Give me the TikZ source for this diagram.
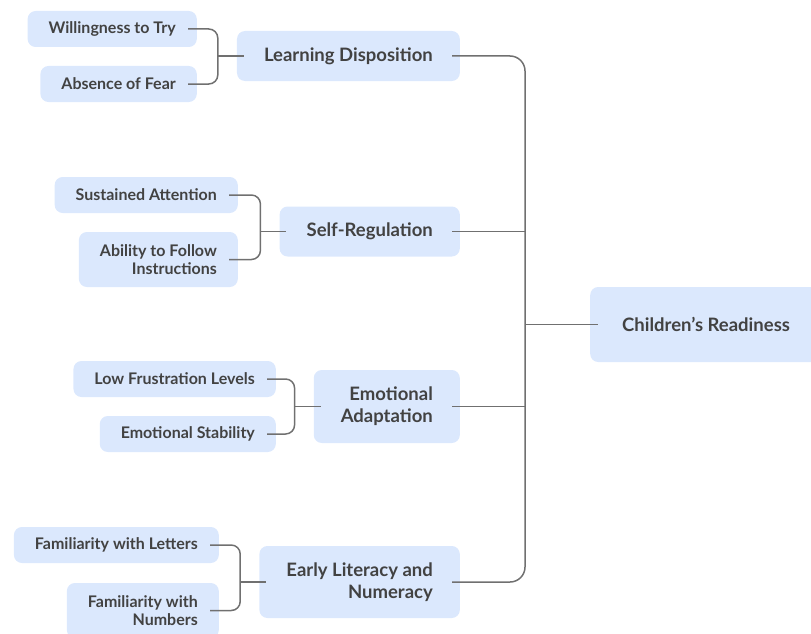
\documentclass[tikz,border=0pt]{standalone}
\usepackage{fontspec}
\setmainfont{Lato}
\usetikzlibrary{positioning}
\definecolor{boxblue}{RGB}{219,232,253}
\definecolor{ink}{RGB}{66,66,66}
\definecolor{linegray}{RGB}{112,112,112}

\begin{document}
\begin{tikzpicture}[x=1pt, y=-1pt,
    box/.style = {fill=boxblue, rounded corners=8pt, text=ink, align=right},
    topic/.style = {box, font=\fontsize{18.5}{22}\selectfont\bfseries,
        inner xsep=27pt, minimum height=50pt, anchor=east},
    leaf/.style = {box, font=\fontsize{16}{18}\selectfont\bfseries,
        inner xsep=21pt, minimum height=36pt, anchor=east},
    link/.style = {draw=linegray, line width=1.5pt, rounded corners=9pt}]
\useasboundingbox (0,0) rectangle (811,634);

\node[box, font=\fontsize{18.5}{22}\selectfont\bfseries, inner xsep=32pt,
    minimum height=75pt, anchor=west] (root) at (590,324.5) {Children's Readiness};

\node[topic] (ld) at (460,56) {Learning Disposition};
\node[topic] (sr) at (460,231.5) {Self-Regulation};
\node[topic, minimum height=73pt] (ea) at (460,406.5) {Emotional\\Adaptation};
\node[topic, minimum height=72pt] (el) at (460,582) {Early Literacy and\\Numeracy};

\node[leaf] (wt) at (197,29) {Willingness to Try};
\node[leaf] (af) at (197,84) {Absence of Fear};
\node[leaf] (sa) at (238,195) {Sustained Attention};
\node[leaf, minimum height=55pt] (fi) at (238,259.5) {Ability to Follow\\Instructions};
\node[leaf] (lf) at (276,379) {Low Frustration Levels};
\node[leaf] (es) at (276,434) {Emotional Stability};
\node[leaf] (fl) at (219,545) {Familiarity with Letters};
\node[leaf, minimum height=55pt] (fn) at (219,610.5) {Familiarity with\\Numbers};

\coordinate (j1) at ([xshift=-19pt]ld.west);
\coordinate (j2) at ([xshift=-19pt]sr.west);
\coordinate (j3) at ([xshift=-19pt]ea.west);
\coordinate (j4) at ([xshift=-19pt]el.west);
\coordinate (bus) at ([xshift=-65pt]root.west);

\draw[link, shorten <=-9pt, shorten >=-9pt] (wt.east) -| (j1) |- (af.east);
\draw[link, shorten <=-9pt, shorten >=-9pt] (sa.east) -| (j2) |- (fi.east);
\draw[link, shorten <=-9pt, shorten >=-9pt] (lf.east) -| (j3) |- (es.east);
\draw[link, shorten <=-9pt, shorten >=-9pt] (fl.east) -| (j4) |- (fn.east);
\draw[link, shorten >=-7pt] (j1) -- (ld.west);
\draw[link, shorten >=-7pt] (j2) -- (sr.west);
\draw[link, shorten >=-7pt] (j3) -- (ea.west);
\draw[link, shorten >=-7pt] (j4) -- (el.west);

\draw[link, rounded corners=15pt, shorten <=-8pt, shorten >=-8pt]
    (ld.east) -| (bus) |- (el.east);
\draw[link, shorten <=-8pt] (sr.east) -- (sr.east -| bus);
\draw[link, shorten <=-8pt] (ea.east) -- (ea.east -| bus);
\draw[link, shorten >=-8pt] (bus) -- (root.west);
\end{tikzpicture}
\end{document}
